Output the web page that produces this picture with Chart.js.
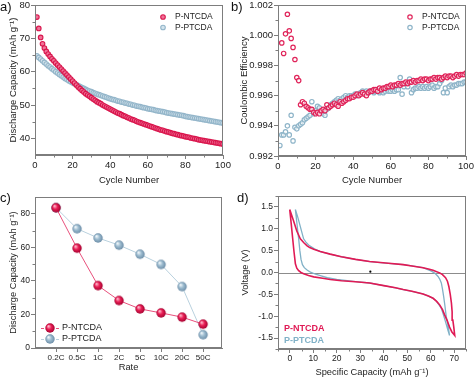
<!DOCTYPE html>
<html><head><meta charset="utf-8">
<script src="https://cdn.jsdelivr.net/npm/chart.js@4.4.1/dist/chart.umd.min.js"></script>
<style>
html,body{margin:0;padding:0;background:#fff}
body{width:474px;height:379px;position:relative;overflow:hidden}
canvas{position:absolute}
.pl{position:absolute;font-family:"Liberation Sans",Arial,sans-serif;font-size:13px;line-height:13px;color:#111}
</style></head><body>
<canvas id="ca" width="237" height="190" style="left:0;top:0"></canvas>
<canvas id="cb" width="237" height="190" style="left:237px;top:0"></canvas>
<canvas id="cc" width="237" height="189" style="left:0;top:190px"></canvas>
<canvas id="cd" width="237" height="189" style="left:237px;top:190px"></canvas>
<div class="pl" style="left:0;top:0">a)</div>
<div class="pl" style="left:231px;top:0">b)</div>
<div class="pl" style="left:0;top:191px">c)</div>
<div class="pl" style="left:237px;top:191px">d)</div>
<script>
// ---------- DATA ----------
const cycles = [...Array(100)].map((_, i) => i + 1);
const capNTCDA = [76.4,73.0,70.3,68.4,67.1,66.1,65.3,64.6,63.9,63.3,
62.6,62.0,61.4,60.8,60.2,59.6,59.0,58.4,57.8,57.2,
56.6,56.0,55.4,54.9,54.4,53.9,53.4,53.0,52.6,52.2,
51.8,51.4,51.0,50.7,50.4,50.0,49.7,49.4,49.1,48.8,
48.5,48.2,47.9,47.6,47.4,47.1,46.8,46.6,46.3,46.1,
45.8,45.6,45.4,45.1,44.9,44.7,44.5,44.3,44.1,43.9,
43.7,43.5,43.3,43.1,42.9,42.7,42.5,42.4,42.2,42.0,
41.9,41.7,41.5,41.4,41.2,41.1,40.9,40.8,40.7,40.5,
40.4,40.3,40.1,40.0,39.9,39.8,39.6,39.5,39.4,39.3,
39.2,39.1,39.0,38.9,38.8,38.7,38.6,38.5,38.4,38.3];
const capPTCDA = [64.8,64.3,63.8,63.3,62.8,62.3,61.8,61.4,60.9,60.5,
60.0,59.6,59.2,58.8,58.4,58.0,57.7,57.3,57.0,56.7,
56.4,56.1,55.8,55.5,55.2,55.0,54.7,54.4,54.2,54.0,
53.7,53.5,53.3,53.1,52.9,52.7,52.5,52.3,52.1,51.9,
51.7,51.6,51.4,51.2,51.1,50.9,50.8,50.6,50.5,50.3,
50.2,50.0,49.9,49.7,49.6,49.5,49.3,49.2,49.1,48.9,
48.8,48.7,48.6,48.4,48.3,48.2,48.1,48.0,47.9,47.7,
47.6,47.5,47.4,47.3,47.2,47.1,47.0,46.9,46.8,46.6,
46.5,46.4,46.3,46.2,46.1,46.0,45.9,45.8,45.7,45.6,
45.5,45.4,45.3,45.2,45.1,45.0,44.9,44.8,44.7,44.6];
const ceNTCDA = [null,0.9995,0.9988,1.0001,1.0014,1.0003,0.9998,0.9992,0.9984,0.9972,
0.9970,0.9954,0.9956,0.9955,0.9953,0.9952,0.9951,0.9951,0.9949,0.9948,
0.9949,0.9948,0.9950,0.9951,0.9950,0.9954,0.9952,0.9953,0.9954,0.9955,
0.9954,0.9953,0.9956,0.9955,0.9956,0.9957,0.9958,0.9958,0.9959,0.9959,
0.9960,0.9961,0.9960,0.9961,0.9962,0.9961,0.9960,0.9962,0.9963,0.9963,
0.9964,0.9964,0.9963,0.9965,0.9964,0.9965,0.9965,0.9966,0.9966,0.9967,
0.9966,0.9967,0.9967,0.9968,0.9967,0.9968,0.9968,0.9969,0.9968,0.9969,
0.9969,0.9970,0.9969,0.9970,0.9970,0.9971,0.9970,0.9971,0.9971,0.9970,
0.9971,0.9971,0.9972,0.9971,0.9972,0.9972,0.9971,0.9972,0.9973,0.9972,
0.9973,0.9973,0.9972,0.9973,0.9974,0.9973,0.9974,0.9974,0.9974,0.9975];
const cePTCDA = [0.9927,0.9934,0.9934,0.9936,0.9940,0.9934,0.9947,0.9930,0.9939,0.9938,
0.9940,0.9941,0.9942,0.9944,0.9945,0.9946,0.9947,0.9956,0.9948,0.9950,
0.9953,0.9952,0.9950,0.9948,0.9947,0.9951,0.9952,0.9954,0.9955,0.9956,
0.9957,0.9958,0.9957,0.9958,0.9959,0.9960,0.9959,0.9960,0.9960,0.9960,
0.9961,0.9960,0.9961,0.9962,0.9963,0.9962,0.9963,0.9962,0.9963,0.9963,
0.9962,0.9963,0.9963,0.9962,0.9963,0.9962,0.9963,0.9964,0.9963,0.9963,
0.9964,0.9963,0.9964,0.9964,0.9972,0.9961,0.9966,0.9968,0.9966,0.9971,
0.9962,0.9964,0.9965,0.9965,0.9966,0.9965,0.9966,0.9965,0.9966,0.9965,
0.9966,0.9967,0.9965,0.9966,0.9966,0.9968,0.9970,0.9962,0.9965,0.9962,
0.9966,0.9967,0.9966,0.9967,0.9967,0.9968,0.9968,0.9968,0.9969,0.9969];
const rateLabels = ['0.2C','0.5C','1C','2C','5C','10C','20C','50C'];
const rateNTCDA = [83.6,59.5,37.2,28.3,23.3,20.9,18.4,14.2];
const ratePTCDA = [83.6,71.1,65.6,61.3,55.9,49.8,36.6,7.9];
const gcdNcap = [0,0.6,1.2,1.8,2.4,3.0,3.8,4.8,5.9,8,10.2,14,17.2,22,28,34,40,45,48.3,52,56.7,59,61,62.5,63.8,65,65.9,67,68,69,70.2,
69.8,69.4,69.1,68.8,68.3,67.7,67.1,66.3,65,63.8,62.5,61,59,56.7,52,48.3,42,34,28,22,17.2,13,10.2,8.5,7.4,6,4.5,3,1.5,0];
const gcdNv = [1.44,1.13,0.8,0.48,0.2,0.1,0.04,0,-0.03,-0.07,-0.1,-0.13,-0.16,-0.19,-0.21,-0.24,-0.3,-0.35,-0.39,-0.43,-0.49,-0.54,-0.59,-0.66,-0.74,-0.85,-0.97,-1.1,-1.25,-1.36,-1.44,
-1.25,-1.09,-0.9,-0.7,-0.5,-0.32,-0.2,-0.12,-0.05,-0.01,0.02,0.05,0.08,0.11,0.15,0.18,0.21,0.25,0.3,0.36,0.42,0.48,0.53,0.57,0.61,0.68,0.77,0.95,1.2,1.44];
const gcdPcap = [2.4,3.0,3.5,3.8,4.3,4.8,5.4,6.2,7.5,8.8,11,13,16,20,28,34,40,45,48.3,52,56.7,59,61,62.5,63.5,64.5,65.4,66.3,67.2,68,
67.3,66.6,66,65.5,65,64.5,63.8,63.1,61.8,60.3,58.5,56.7,52,48.3,42,34,28,22,17.2,13,10.5,8,6.8,5.9,4.5,3.5,2.4];
const gcdPv = [1.44,1.15,0.9,0.77,0.5,0.3,0.18,0.11,0.05,0.01,-0.04,-0.07,-0.12,-0.16,-0.21,-0.24,-0.3,-0.35,-0.39,-0.43,-0.49,-0.54,-0.59,-0.66,-0.74,-0.82,-0.97,-1.13,-1.3,-1.44,
-1.2,-1.01,-0.75,-0.55,-0.38,-0.24,-0.15,-0.09,-0.02,0.03,0.07,0.11,0.15,0.18,0.21,0.25,0.3,0.36,0.42,0.48,0.54,0.63,0.7,0.77,1.05,1.25,1.44];
const gcdDotCap = [34.3];
const gcdDotV = [0.02];

const aXTicks = [0,20,40,60,80,100], aXMinor = [10,30,50,70,90];
const aYTicks = [40,50,60,70,80], aYMinor = [45,55,65,75];
const bYTicks = [0.992,0.994,0.996,0.998,1.000,1.002], bYMinor = [0.993,0.995,0.997,0.999,1.001];
const cXTicks = [0,1,2,3,4,5,6,7];
const cYTicks = [0,20,40,60,80], cYMinor = [10,30,50,70];
const dXTicks = [0,10,20,30,40,50,60,70], dXMinor = [-5,5,15,25,35,45,55,65,75];
const dYTicks = [-1.5,-1.0,-0.5,0.0,0.5,1.0,1.5], dYMinor = [-1.75,-1.25,-0.75,-0.25,0.25,0.75,1.25,1.75];

// ---------- STYLE ----------
const AX = '#7d7d7d';
const TXT = '#222';
const ARIAL = '"Liberation Sans", Arial, sans-serif';

function pts(xs, ys){ return xs.map((x,i)=>({x, y: ys[i]})); }

function scaleOpts(axis, min, max, tickVals, fmt, boxSize, family, tickSize, title, titleSize, titlePad){
  return {
    type:'linear', min, max,
    afterBuildTicks: s => { s.ticks = tickVals.map(v => ({value:v})); },
    afterFit: s => {
      if (axis === 'x') s.height = boxSize; else s.width = boxSize;
      s.paddingLeft = s.paddingRight = s.paddingTop = s.paddingBottom = 0;
    },
    grid:{drawOnChartArea:false, drawTicks:true, tickLength:4, tickWidth:1, color:AX, lineWidth:1},
    border:{display:true, color:AX, width:1},
    ticks:{autoSkip:false, maxRotation:0, minRotation:0, padding:1, color:TXT, font:{family, size:tickSize}, callback: fmt},
    title:{display:true, text:title, color:TXT, font:{family, size:titleSize}, padding:titlePad}
  };
}

function framePlugin(cfg){
  return {
    id:'frame',
    beforeDatasetsDraw(chart){
      if(!cfg.zero) return;
      const {ctx, chartArea:a, scales:{y}} = chart;
      ctx.save(); ctx.strokeStyle='#8c8c8c'; ctx.lineWidth=1;
      const py = Math.round(y.getPixelForValue(0))+0.5;
      ctx.beginPath(); ctx.moveTo(a.left,py); ctx.lineTo(a.right,py); ctx.stroke(); ctx.restore();
    },
    afterDraw(chart){
      const {ctx, chartArea:a, scales:{x, y}} = chart;
      ctx.save();
      ctx.strokeStyle = AX; ctx.lineWidth = 1;
      ctx.strokeRect(Math.round(a.left)+0.5, Math.round(a.top)+0.5, Math.round(a.right-a.left)-1, Math.round(a.bottom-a.top)-1);
      ctx.beginPath();
      (cfg.xMinor||[]).forEach(v=>{ const p=Math.round(x.getPixelForValue(v))+0.5; ctx.moveTo(p,a.bottom); ctx.lineTo(p,a.bottom+2.5); });
      (cfg.yMinor||[]).forEach(v=>{ const p=Math.round(y.getPixelForValue(v))+0.5; ctx.moveTo(a.left,p); ctx.lineTo(a.left-2.5,p); });
      ctx.stroke();
      if (cfg.legend) cfg.legend(ctx, chart);
      ctx.restore();
    }
  };
}

function sphere(c1, c2, c3, r){
  const s = Math.ceil(r*2+2);
  const cv = document.createElement('canvas'); cv.width = s; cv.height = s;
  const g = cv.getContext('2d');
  const gr = g.createRadialGradient(s/2 - r*0.35, s/2 - r*0.4, r*0.1, s/2, s/2, r);
  gr.addColorStop(0, c1); gr.addColorStop(0.45, c2); gr.addColorStop(1, c3);
  g.fillStyle = gr; g.beginPath(); g.arc(s/2, s/2, r, 0, Math.PI*2); g.fill();
  return cv;
}
const sphRed = sphere('#ffb3c8', '#ea1f56', '#a5002f', 4.7);
const sphBlue = sphere('#eef5f9', '#9dbcd0', '#6d8ea8', 4.7);

const common = {responsive:false, animation:false, events:[], plugins:{legend:{display:false}, tooltip:{enabled:false}}};

// ---------- PANEL A ----------
new Chart(document.getElementById('ca'), {
  type:'scatter',
  data:{datasets:[
    {label:'P-NTCDA', data:pts(cycles, capNTCDA), pointRadius:2.3, pointBorderWidth:1.1, pointBackgroundColor:'#f07398', pointBorderColor:'#d9164d'},
    {label:'P-PTCDA', data:pts(cycles, capPTCDA), pointRadius:2.3, pointBorderWidth:1.1, pointBackgroundColor:'#d3e3ec', pointBorderColor:'#94b6ca'}
  ]},
  options:Object.assign({}, common, {
    layout:{padding:{left:0, right:14, top:5, bottom:0}},
    scales:{
      x: scaleOpts('x', 0, 100, aXTicks, v=>String(v), 35, ARIAL, 9.5, 'Cycle Number', 9.5, {top:0, bottom:4}),
      y: scaleOpts('y', 35, 80, aYTicks, v=>String(v), 35, ARIAL, 9.5, 'Discharge Capacity (mAh g\u207B\u00B9)', 9.5, {top:8, bottom:0})
    }
  }),
  plugins:[framePlugin({xMinor:aXMinor, yMinor:aYMinor, legend:(ctx)=>{
    ctx.font = '8.5px ' + ARIAL; ctx.textBaseline='middle'; ctx.fillStyle=TXT;
    [['P-NTCDA','#f07398','#d9164d',17],['P-PTCDA','#d3e3ec','#94b6ca',27.5]].forEach(([t,f,b,yy])=>{
      ctx.beginPath(); ctx.arc(163, yy, 2.3, 0, Math.PI*2); ctx.fillStyle=f; ctx.fill(); ctx.lineWidth=1.1; ctx.strokeStyle=b; ctx.stroke();
      ctx.fillStyle=TXT; ctx.fillText(t, 175, yy);
    });
  }})]
});

// ---------- PANEL B ----------
new Chart(document.getElementById('cb'), {
  type:'scatter',
  data:{datasets:[
    {label:'P-NTCDA', data:pts(cycles, ceNTCDA), pointRadius:2.2, pointBorderWidth:1.2, pointBackgroundColor:'rgba(255,255,255,0.6)', pointBorderColor:'#e0245a'},
    {label:'P-PTCDA', data:pts(cycles, cePTCDA), pointRadius:2.2, pointBorderWidth:1.2, pointBackgroundColor:'rgba(255,255,255,0.6)', pointBorderColor:'#8fb5c9'}
  ]},
  options:Object.assign({}, common, {
    layout:{padding:{left:0, right:8, top:4, bottom:0}},
    scales:{
      x: scaleOpts('x', 0, 100, aXTicks, v=>String(v), 34, ARIAL, 9.5, 'Cycle Number', 9.5, {top:0, bottom:4}),
      y: scaleOpts('y', 0.992, 1.002, bYTicks, v=>Number(v).toFixed(3), 41, ARIAL, 9.5, 'Coulombic Efficiency', 9.5, {top:1.6, bottom:0})
    }
  }),
  plugins:[framePlugin({xMinor:aXMinor, yMinor:bYMinor, legend:(ctx)=>{
    ctx.font = '8.5px ' + ARIAL; ctx.textBaseline='middle';
    [['P-NTCDA','#e0245a',17],['P-PTCDA','#8fb5c9',27.5]].forEach(([t,b,yy])=>{
      ctx.beginPath(); ctx.arc(173, yy, 2.2, 0, Math.PI*2); ctx.lineWidth=1.2; ctx.strokeStyle=b; ctx.stroke();
      ctx.fillStyle=TXT; ctx.fillText(t, 185, yy);
    });
  }})]
});

// ---------- PANEL C ----------
new Chart(document.getElementById('cc'), {
  type:'scatter',
  data:{datasets:[
    {label:'P-NTCDA', data:pts(cXTicks, rateNTCDA), showLine:true, borderColor:'#e8507c', borderWidth:1, pointStyle:sphRed, pointRadius:4.7},
    {label:'P-PTCDA', data:pts(cXTicks, ratePTCDA), showLine:true, borderColor:'#b9d1de', borderWidth:1, pointStyle:sphBlue, pointRadius:4.7}
  ]},
  options:Object.assign({}, common, {
    layout:{padding:{left:0, right:15, top:7, bottom:0}},
    scales:{
      x: scaleOpts('x', -1, 7.9, cXTicks, v=>rateLabels[v], 31, ARIAL, 8, 'Rate', 9.3, {top:0, bottom:6}),
      y: scaleOpts('y', 0, 90, cYTicks, v=>String(v), 35, ARIAL, 8.5, 'Discharge Capacity (mAh g\u207B\u00B9)', 9.3, {top:7.4, bottom:0})
    }
  }),
  plugins:[framePlugin({yMinor:cYMinor, legend:(ctx)=>{
    ctx.font = '9px ' + ARIAL; ctx.textBaseline='middle';
    [['P-NTCDA','#e8507c',sphRed,138],['P-PTCDA','#b9d1de',sphBlue,149]].forEach(([t,lc,img,yy])=>{
      ctx.beginPath(); ctx.moveTo(41,yy+0.5); ctx.lineTo(60,yy+0.5); ctx.lineWidth=1; ctx.strokeStyle=lc; ctx.setLineDash([3,2]); ctx.stroke(); ctx.setLineDash([]);
      ctx.drawImage(img, 50-img.width/2, yy-img.height/2);
      ctx.fillStyle=TXT; ctx.fillText(t, 62, yy);
    });
  }})]
});

// ---------- PANEL D ----------
new Chart(document.getElementById('cd'), {
  type:'scatter',
  data:{datasets:[
    {label:'dot', data:pts(gcdDotCap, gcdDotV), pointRadius:1.1, pointBackgroundColor:'#000', pointBorderWidth:0},
    {label:'P-NTCDA', data:pts(gcdNcap, gcdNv), showLine:true, borderColor:'#e01a55', borderWidth:1.6, pointRadius:0, tension:0},
    {label:'P-PTCDA', data:pts(gcdPcap, gcdPv), showLine:true, borderColor:'#80b1c7', borderWidth:1.3, pointRadius:0, tension:0}
  ]},
  options:Object.assign({}, common, {
    layout:{padding:{left:0, right:8, top:6, bottom:0}},
    scales:{
      x: scaleOpts('x', -5, 75, dXTicks, v=>String(v), 30, ARIAL, 8.5, 'Specific Capacity (mAh g\u207B\u00B9)', 9.3, {top:0, bottom:1}),
      y: scaleOpts('y', -1.75, 1.75, dYTicks, v=>Number(v).toFixed(1), 41, ARIAL, 8.5, 'Voltage (V)', 9.3, {top:2.7, bottom:0})
    }
  }),
  plugins:[framePlugin({zero:true, xMinor:dXMinor, yMinor:dYMinor, legend:(ctx)=>{
    ctx.font = 'bold 9px ' + ARIAL; ctx.textBaseline='middle';
    ctx.fillStyle='#e01a55'; ctx.fillText('P-NTCDA', 47, 139);
    ctx.fillStyle='#80b1c7'; ctx.fillText('P-PTCDA', 47, 151);
  }})]
});
</script>
</body></html>
